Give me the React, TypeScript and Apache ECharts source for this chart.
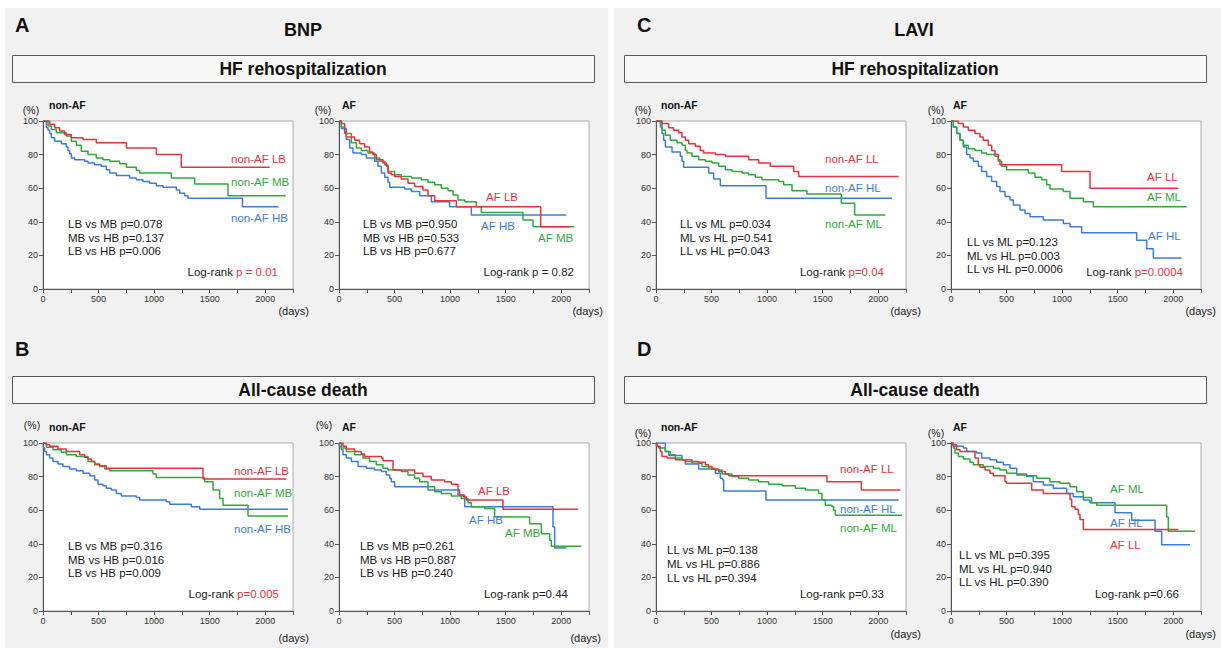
import React, { useEffect, useRef } from "react";
import * as echarts from "echarts";

// ---------- DATA (days, % event-free) ----------
// HF rehospitalization, BNP, non-AF
const hfBnpNonAfLB = [[0,100],[60,98],[105,96],[150,94],[195,92],[255,90],[360,89],[480,87],[750,84],[1020,80],[1245,72.5],[2040,72.5]];
const hfBnpNonAfMB = [[0,100],[45,97],[75,95],[120,93],[210,91],[255,88],[300,85.5],[345,82],[405,80],[480,78],[540,77],[600,76],[690,74.5],[750,72.5],[840,70.5],[870,69],[1155,66],[1365,62.5],[1665,55.5],[2185,55.5]];
const hfBnpNonAfHB = [[0,100],[30,96],[45,94.5],[60,92.5],[75,90],[105,88],[165,86.5],[210,84.5],[225,82.5],[240,80.5],[255,78],[285,77],[375,76],[405,75],[465,74],[525,73],[570,71],[600,69],[660,67.5],[780,66],[840,65],[900,64],[960,63],[1020,61.5],[1080,60.5],[1200,59],[1230,57],[1275,55.5],[1305,54],[1795,49],[2120,49]];
// HF rehospitalization, BNP, AF
const hfBnpAfLB = [[0,100],[21,98.5],[51,93.5],[66,90.5],[141,88.5],[186,86.5],[231,84.5],[276,81.5],[306,80],[336,77],[396,75],[426,73],[441,69],[471,68],[501,67],[561,65.5],[621,63],[681,61],[756,59],[801,55.5],[861,52.5],[1056,49],[1815,37],[2076,37]];
const hfBnpAfMB = [[0,100],[21,96.5],[51,92.5],[111,87],[156,84],[201,82.5],[261,81],[321,78],[366,76],[411,74],[441,70],[501,68],[561,67],[651,66],[741,65],[801,63.5],[861,62],[921,60],[981,58.5],[1026,56],[1071,53],[1131,52],[1236,49],[1281,45.5],[1656,41],[1746,37],[2115,37]];
const hfBnpAfHB = [[0,100],[21,95.5],[66,89],[96,84],[126,81],[201,80],[246,78],[321,76],[351,73],[381,69],[411,66.5],[441,63.5],[456,60.5],[591,59.5],[651,58],[726,55.5],[831,52],[996,49],[1191,44],[2046,44]];
// HF rehospitalization, LAVI, non-AF
const hfLaviNonAfLL = [[0,100],[54,98.5],[114,96],[159,94.5],[204,93],[234,90.5],[264,88.5],[294,86.5],[354,85],[399,82.5],[429,81],[534,80],[624,79],[834,77],[924,75],[1029,73],[1239,70],[1284,67],[2184,67]];
const hfLaviNonAfML = [[0,100],[54,94.5],[84,91.5],[129,88.5],[189,87],[234,85.5],[264,82.5],[279,81],[324,79],[384,77],[444,76],[504,75],[564,73],[624,71],[684,70],[774,69],[834,68],[894,66.5],[954,65],[1104,64],[1149,62],[1224,58.5],[1359,56.5],[1668,51],[1788,44],[2064,44]];
const hfLaviNonAfHL = [[0,100],[39,96.5],[54,92.5],[69,88.5],[84,84.5],[144,81.5],[219,79],[234,76],[249,72.5],[474,69],[519,65.5],[579,61.5],[990,54],[2124,54]];
// HF rehospitalization, LAVI, AF
const hfLaviAfLL = [[0,100],[66,98.5],[111,96.5],[156,94.5],[216,92.5],[261,90.5],[291,88.5],[336,85.5],[366,82.5],[396,80],[426,77],[441,74],[996,70],[1251,60],[2046,60]];
const hfLaviAfML = [[0,100],[21,96.5],[51,92.5],[81,88.5],[111,85.5],[156,83.5],[216,82.5],[276,81],[321,80],[396,79],[426,76],[456,73],[501,71],[696,69],[756,66.5],[816,65],[861,62],[891,59.5],[1011,58],[1071,54],[1191,52],[1281,49],[2121,49]];
const hfLaviAfHL = [[0,100],[21,96.5],[51,92.5],[81,88.5],[111,84.5],[141,80],[171,78],[201,76],[246,73],[276,70],[321,67],[366,64],[411,61],[441,58],[486,55],[531,53],[561,50],[621,47],[666,45],[711,43],[831,41],[1011,39],[1071,37],[1176,33.5],[1671,29],[1761,24],[1821,18.5],[2076,18.5]];
// All-cause death, BNP, non-AF
const deathBnpNonAfLB = [[0,100],[30,99],[60,98],[135,96.5],[210,95],[330,93],[375,91.5],[405,90.5],[435,89],[465,87.5],[510,86.5],[570,85],[1440,78.5],[2190,78.5]];
const deathBnpNonAfMB = [[0,100],[30,97.5],[90,96],[165,94.5],[210,93],[300,92],[405,89],[465,87],[510,86],[555,84.5],[600,83.5],[990,81.5],[1020,79.5],[1455,77],[1530,72],[1590,67],[1620,63],[1845,56.5],[2205,56.5]];
const deathBnpNonAfHB = [[0,100],[6,97],[15,95],[30,93],[60,91],[90,89],[135,87.5],[180,86],[240,84.5],[300,83.5],[360,82],[420,80.5],[465,78],[495,75.5],[540,74.5],[570,73],[615,72],[660,70],[705,68.5],[840,67.5],[870,66],[1110,65],[1140,63.5],[1335,62],[1410,60.5],[2205,60.5]];
// All-cause death, BNP, AF
const deathBnpAfLB = [[0,100],[36,98],[66,96.5],[141,95],[201,93.5],[231,92],[381,91],[396,89.5],[486,84],[681,82],[756,80],[831,78],[951,77],[1011,75.5],[1071,72],[1086,69],[1116,68],[1146,66],[1476,60.5],[2151,60.5]];
const deathBnpAfMB = [[0,100],[21,97],[66,95],[141,93],[216,91],[276,89],[336,87],[396,85],[441,84],[561,83],[621,81],[681,79],[726,77],[801,74],[861,71],[921,70],[1011,68.5],[1101,67],[1161,64.5],[1191,62],[1311,61],[1401,56],[1716,52],[1821,46],[1896,42],[1911,38.5],[2181,38.5]];
const deathBnpAfHB = [[0,100],[6,98],[21,96],[36,93],[66,91],[111,89],[171,86],[246,85],[321,84],[381,83],[426,81],[456,79],[471,77],[501,74],[801,72],[1071,69],[1131,62],[1926,50],[1941,37.5],[2046,37.5]];
// All-cause death, LAVI, non-AF
const deathLaviNonAfLL = [[0,100],[9,98],[39,95],[54,92],[99,91],[174,90],[264,89],[384,88.5],[444,87],[474,86],[504,84.5],[564,83],[624,81.5],[654,80.5],[1539,77],[1848,72],[2199,72]];
const deathLaviNonAfML = [[0,100],[5,98],[24,97],[84,95],[129,93],[174,91],[234,90],[324,88],[414,86],[474,85],[534,84],[594,81.5],[684,80],[744,79],[834,78],[924,77],[1014,75.5],[1134,74.5],[1254,73],[1344,72],[1464,70],[1494,66],[1524,63],[1584,62],[1599,60],[1614,57],[2214,57]];
const deathLaviNonAfHL = [[0,100],[84,95],[114,92.5],[234,90],[264,87.5],[384,84.5],[534,82],[579,79],[600,78],[609,71.5],[990,66],[2184,66]];
// All-cause death, LAVI, AF
const deathLaviAfLL = [[0,100],[21,98],[51,96],[81,95],[216,91],[246,87],[261,85.5],[306,84],[351,82],[381,80.5],[486,77],[501,76],[726,72],[831,70],[1071,66.5],[1086,62],[1116,60.5],[1146,57.5],[1161,54.5],[1191,48.5],[2046,48.5]];
const deathLaviAfML = [[0,100],[21,97],[36,94],[66,92],[111,90.5],[171,88.5],[201,87],[291,86],[381,85],[441,84],[501,82],[591,81.5],[681,80.5],[771,79],[891,77],[981,76],[1071,74],[1131,71],[1191,67.5],[1266,64.5],[1311,63],[1941,56],[1956,47.5],[2196,47.5]];
const deathLaviAfHL = [[0,100],[15,99],[51,98],[111,97],[141,95],[231,94],[276,91],[351,90],[411,88.5],[471,87],[531,85],[591,81],[681,80],[741,77],[831,75],[921,73],[1041,70],[1101,68],[1191,66],[1251,64.5],[1476,58.5],[1626,54],[1836,47.5],[1896,39.5],[2151,39.5]];

// Labels
const xTickLabels = [0, 500, 1000, 1500, 2000];
const yTickLabels = [0, 20, 40, 60, 80, 100];
const bnpGroups = ["LB", "MB", "HB"];
const laviGroups = ["LL", "ML", "HL"];
const cmpHfBnpNonAf = ["LB vs MB p=0.078", "MB vs HB p=0.137", "LB vs HB p=0.006"];
const cmpHfBnpAf = ["LB vs MB p=0.950", "MB vs HB p=0.533", "LB vs HB p=0.677"];
const cmpHfLaviNonAf = ["LL vs ML p=0.034", "ML vs HL p=0.541", "LL vs HL p=0.043"];
const cmpHfLaviAf = ["LL vs ML p=0.123", "ML vs HL p=0.003", "LL vs HL p=0.0006"];
const cmpDeathBnpNonAf = ["LB vs MB p=0.316", "MB vs HB p=0.016", "LB vs HB p=0.009"];
const cmpDeathBnpAf = ["LB vs MB p=0.261", "MB vs HB p=0.887", "LB vs HB p=0.240"];
const cmpDeathLaviNonAf = ["LL vs ML p=0.138", "ML vs HL p=0.886", "LL vs HL p=0.394"];
const cmpDeathLaviAf = ["LL vs ML p=0.395", "ML vs HL p=0.940", "LL vs HL p=0.390"];
const logRankP = ["p = 0.01", "p = 0.82", "p=0.04", "p=0.0004", "p=0.005", "p=0.44", "p=0.33", "p=0.66"];
const logRankSignificant = [true, false, true, true, true, false, false, false];

// ---------- STYLE / LAYOUT ----------
const RED = "#e8333d";
const GREEN = "#2eaa3c";
const BLUE = "#3c7ddc";
const COLORS = [RED, GREEN, BLUE];
const FONT = '"Liberation Sans", Arial, Helvetica, sans-serif';
const TXT = "#1a1a1a";

type PanelCfg = {
  left: number; top: number; af: boolean; groups: string[];
  curves: number[][][]; cmp: string[];
  pct: [number, number]; tag: [number, number]; days: [number, number];
  cmpPos: [number, number, number]; lr: [number, number];
  labs: [number, number][];
};

const panels: PanelCfg[] = [
  { left: 43, top: 121, af: false, groups: bnpGroups, curves: [hfBnpNonAfLB, hfBnpNonAfMB, hfBnpNonAfHB], cmp: cmpHfBnpNonAf,
    pct: [31, 110], tag: [49, 105], days: [309, 311], cmpPos: [68, 224, 13.7], lr: [278, 272], labs: [[231, 159], [231, 182], [231, 218]] },
  { left: 339, top: 121, af: true, groups: bnpGroups, curves: [hfBnpAfLB, hfBnpAfMB, hfBnpAfHB], cmp: cmpHfBnpAf,
    pct: [323, 110], tag: [342, 105], days: [603, 311], cmpPos: [363, 224, 13.7], lr: [574, 272], labs: [[486, 197], [538, 238], [481, 226]] },
  { left: 656, top: 121, af: false, groups: laviGroups, curves: [hfLaviNonAfLL, hfLaviNonAfML, hfLaviNonAfHL], cmp: cmpHfLaviNonAf,
    pct: [643, 110], tag: [661, 105], days: [921, 311], cmpPos: [680, 224, 13.7], lr: [884, 272], labs: [[825, 159], [825, 224], [825, 188]] },
  { left: 951, top: 121, af: true, groups: laviGroups, curves: [hfLaviAfLL, hfLaviAfML, hfLaviAfHL], cmp: cmpHfLaviAf,
    pct: [936, 110], tag: [953, 105], days: [1216, 311], cmpPos: [967, 242, 13.6], lr: [1183, 272], labs: [[1147, 177], [1147, 197], [1148, 236]] },
  { left: 43, top: 443, af: false, groups: bnpGroups, curves: [deathBnpNonAfLB, deathBnpNonAfMB, deathBnpNonAfHB], cmp: cmpDeathBnpNonAf,
    pct: [32, 425], tag: [49, 427], days: [309, 638], cmpPos: [68, 546, 13.6], lr: [279, 594], labs: [[234, 471], [234, 493], [234, 529]] },
  { left: 339, top: 443, af: true, groups: bnpGroups, curves: [deathBnpAfLB, deathBnpAfMB, deathBnpAfHB], cmp: cmpDeathBnpAf,
    pct: [324, 425], tag: [342, 427], days: [601, 638], cmpPos: [360, 546, 13.6], lr: [568, 594], labs: [[478, 491], [505, 533], [469, 520]] },
  { left: 656, top: 443, af: false, groups: laviGroups, curves: [deathLaviNonAfLL, deathLaviNonAfML, deathLaviNonAfHL], cmp: cmpDeathLaviNonAf,
    pct: [643, 433], tag: [661, 427], days: [921, 634], cmpPos: [667, 550, 14], lr: [884, 594], labs: [[840, 469], [840, 528], [840, 509]] },
  { left: 951, top: 443, af: true, groups: laviGroups, curves: [deathLaviAfLL, deathLaviAfML, deathLaviAfHL], cmp: cmpDeathLaviAf,
    pct: [936, 433], tag: [953, 427], days: [1216, 634], cmpPos: [959, 555, 13.6], lr: [1179, 594], labs: [[1110, 545], [1110, 489], [1110, 523]] },
];

const GRID_W = 250;
const GRID_H = 168;

function buildOption() {
  const grid: any[] = [];
  const xAxis: any[] = [];
  const yAxis: any[] = [];
  const series: any[] = [];
  const graphic: any[] = [];

  const txt = (text: string, x: number, y: number, o: any = {}) => ({
    type: "text", x, y, silent: true, z: 100,
    style: { text, fill: o.fill || TXT, fontSize: o.fontSize || 11.5, fontWeight: o.fontWeight || "normal",
      fontFamily: FONT, align: o.align || "left", verticalAlign: "middle" },
  });

  // Headers
  const headers = [
    { letter: "A", lx: 15, ly: 25, marker: "BNP", mx: 303, my: 30, box: "HF rehospitalization", bx: 12, by: 55 },
    { letter: "C", lx: 637, ly: 25, marker: "LAVI", mx: 914, my: 30, box: "HF rehospitalization", bx: 624, by: 55 },
    { letter: "B", lx: 15, ly: 349, marker: "", mx: 0, my: 0, box: "All-cause death", bx: 12, by: 376 },
    { letter: "D", lx: 637, ly: 349, marker: "", mx: 0, my: 0, box: "All-cause death", bx: 624, by: 376 },
  ];
  headers.forEach((h) => {
    graphic.push(txt(h.letter, h.lx, h.ly, { fontSize: 20, fontWeight: "bold", fill: "#111" }));
    if (h.marker) graphic.push(txt(h.marker, h.mx, h.my, { fontSize: 18, fontWeight: "bold", align: "center", fill: "#111" }));
    graphic.push({ type: "rect", shape: { x: h.bx + 0.5, y: h.by + 0.5, width: 582, height: 27 }, silent: true, z: 99,
      style: { fill: "#f7f7f7", stroke: "#5a5a5a", lineWidth: 1 } });
    graphic.push(txt(h.box, h.bx + 291, h.by + 14, { fontSize: 17.5, fontWeight: "bold", align: "center", fill: "#111" }));
  });

  panels.forEach((p, i) => {
    grid.push({ left: p.left, top: p.top, width: GRID_W, height: GRID_H, show: true, backgroundColor: "#ffffff",
      borderColor: "#aaaaaa", borderWidth: 1, containLabel: false });
    xAxis.push({
      type: "value", gridIndex: i, min: 0, max: 2250, interval: 250,
      axisLine: { show: true, onZero: false, lineStyle: { color: "#555", width: 1 } },
      axisTick: { show: true, length: 4, lineStyle: { color: "#555" } },
      splitLine: { show: false },
      axisLabel: { fontSize: 9, color: "#333", fontFamily: FONT, margin: 5,
        formatter: (v: number) => (xTickLabels.indexOf(v) >= 0 ? String(v) : "") },
    });
    yAxis.push({
      type: "value", gridIndex: i, min: 0, max: 100, interval: 20,
      axisLine: { show: true, onZero: false, lineStyle: { color: "#555", width: 1 } },
      axisTick: { show: true, length: 4, lineStyle: { color: "#555" } },
      splitLine: { show: false },
      axisLabel: { fontSize: 9, color: "#333", fontFamily: FONT, margin: 5,
        formatter: (v: number) => (yTickLabels.indexOf(v) >= 0 ? String(v) : "") },
    });
    const prefix = p.af ? "AF " : "non-AF ";
    p.curves.forEach((c, k) => {
      series.push({
        type: "line", name: prefix + p.groups[k], xAxisIndex: i, yAxisIndex: i, data: c, step: "end",
        showSymbol: false, symbol: "none", lineStyle: { color: COLORS[k], width: 1.5 }, itemStyle: { color: COLORS[k] },
        z: 3 + (2 - k), silent: true,
      });
      graphic.push(txt(prefix + p.groups[k], p.labs[k][0], p.labs[k][1], { fill: COLORS[k], fontSize: 11.5 }));
    });
    graphic.push(txt("(%)", p.pct[0], p.pct[1], { fontSize: 10.5, align: "center" }));
    graphic.push(txt(p.af ? "AF" : "non-AF", p.tag[0], p.tag[1], { fontSize: 10.5, fontWeight: "bold", fill: "#111" }));
    graphic.push(txt("(days)", p.days[0], p.days[1], { fontSize: 11, align: "right" }));
    p.cmp.forEach((s, k) => {
      graphic.push(txt(s, p.cmpPos[0], p.cmpPos[1] + k * p.cmpPos[2], { fontSize: 11.5 }));
    });
    graphic.push({
      type: "text", x: p.lr[0], y: p.lr[1], silent: true, z: 100,
      style: {
        text: "{a|Log-rank }{b|" + logRankP[i] + "}", align: "right", verticalAlign: "middle",
        fontSize: 11.5, fontFamily: FONT, fill: TXT,
        rich: {
          a: { fill: TXT, fontSize: 11.5, fontFamily: FONT },
          b: { fill: logRankSignificant[i] ? RED : TXT, fontSize: 11.5, fontFamily: FONT },
        },
      },
    });
  });

  return { animation: false, grid, xAxis, yAxis, series, graphic, textStyle: { fontFamily: FONT } };
}

export default function App() {
  const ref = useRef<HTMLDivElement>(null);
  useEffect(() => {
    if (!ref.current) return;
    const chart = echarts.init(ref.current, undefined, { renderer: "svg" });
    chart.setOption(buildOption() as any);
    return () => chart.dispose();
  }, []);
  return (
    <div style={{ position: "fixed", left: 0, top: 0, width: 1221, height: 648, background: "#ffffff", overflow: "hidden" }}>
      <div style={{ position: "absolute", left: 5, top: 8, width: 603, height: 640, background: "#f1f1f1" }} />
      <div style={{ position: "absolute", left: 614, top: 8, width: 607, height: 640, background: "#f1f1f1" }} />
      <div ref={ref} style={{ position: "absolute", left: 0, top: 0, width: 1221, height: 648 }} />
    </div>
  );
}
